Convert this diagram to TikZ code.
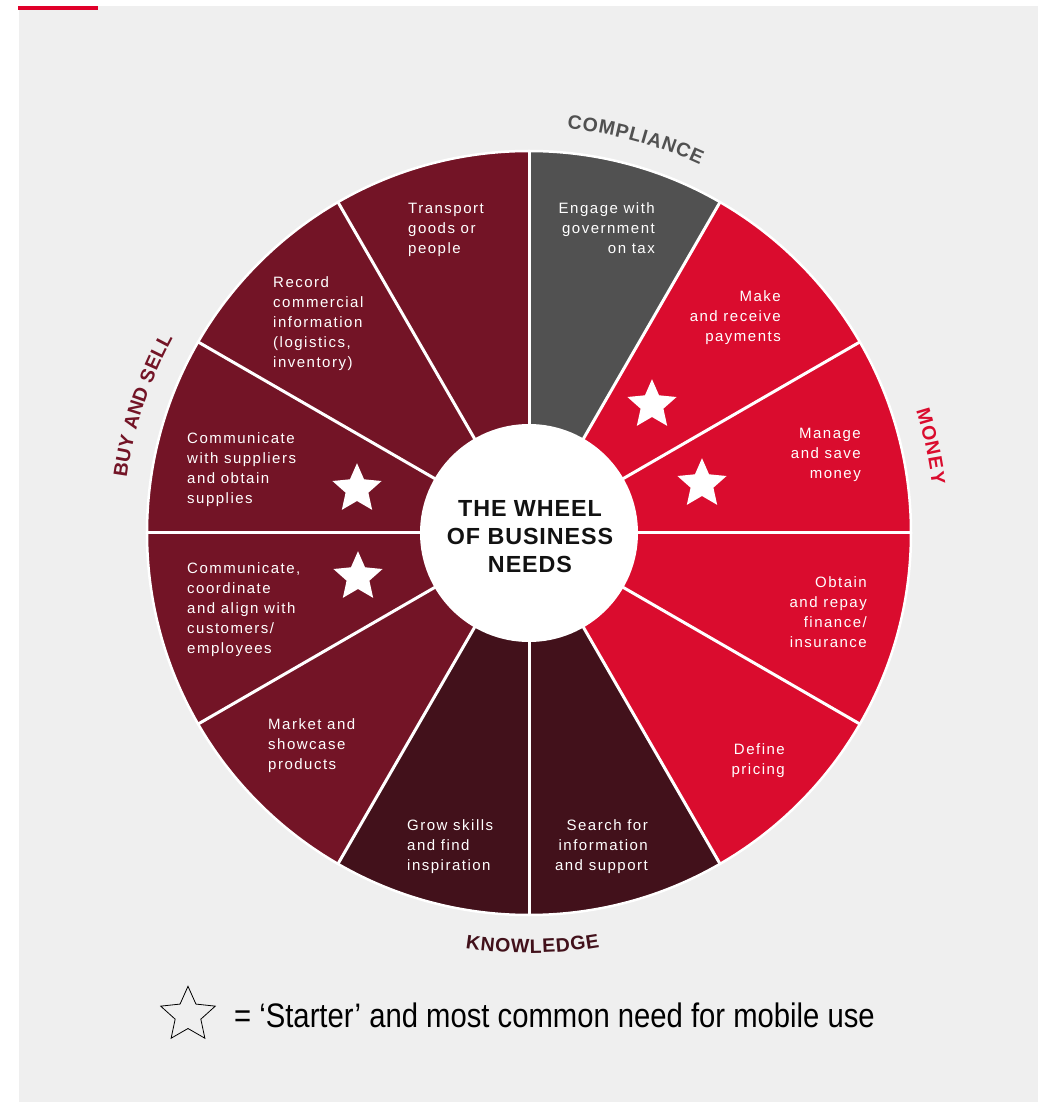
\documentclass[tikz,border=0pt]{standalone}
\usepackage{fontspec}
\setmainfont{Liberation Sans}
\newfontfamily\segfont[LetterSpace=10]{Liberation Sans}
\newfontfamily\titlefont[LetterSpace=4]{Liberation Sans}
\usetikzlibrary{decorations.text}
\definecolor{maroonw}{HTML}{731426}
\definecolor{darkw}{HTML}{42111B}
\definecolor{redw}{HTML}{DA0C2E}
\definecolor{grayw}{HTML}{515151}
\definecolor{panelw}{HTML}{EFEFEF}
\definecolor{barw}{HTML}{E0002A}
\newcommand\starshape[3]{(90:#2) -- (126:#3) -- (162:#2) -- (198:#3) -- (234:#2) -- (270:#3) -- (306:#2) -- (342:#3) -- (18:#2) -- (54:#3) -- cycle}
\tikzset{
  segtext/.style={font=\segfont\fontsize{15pt}{20pt}\selectfont, text=white, inner sep=0pt},
  segL/.style={segtext, anchor=north west, align=left},
  segR/.style={segtext, anchor=north east, align=right},
  wstar/.style={fill=white},
  sep/.style={white, line width=3pt},
  curvelabel/.style={decorate, decoration={text along path, text align=fit to path}}
}
\begin{document}
\begin{tikzpicture}[x=1pt, y=1pt]
\useasboundingbox (-529,-569) rectangle (522,533);
\fill[white] (-529,-569) rectangle (522,533);
\fill[panelw] (-510,-569) rectangle (509,527);
\fill[barw] (-511,522.5) rectangle (-431,527);

% sectors
\def\R{382pt}
\fill[grayw]   (0,0) -- (90:\R)  arc[start angle=90,  end angle=60,  radius=\R] -- cycle;
\fill[redw]    (0,0) -- (60:\R)  arc[start angle=60,  end angle=-60, radius=\R] -- cycle;
\fill[darkw]   (0,0) -- (-60:\R) arc[start angle=-60, end angle=-120,radius=\R] -- cycle;
\fill[maroonw] (0,0) -- (-120:\R) arc[start angle=-120,end angle=-270,radius=\R] -- cycle;
\foreach \a in {0,30,...,330} \draw[sep] (\a:100pt) -- (\a:\R);
\draw[white, line width=2.5pt] (0,0) circle[radius=\R];
\node[circle, fill=white, minimum size=218pt, inner sep=0pt] (hub) at (0,0) {};
\node[font=\titlefont\fontsize{23.3pt}{28pt}\selectfont\bfseries, text=black!93, align=center, anchor=north, inner sep=0pt] (title) at (1,33) {THE WHEEL\\OF BUSINESS\\NEEDS};

% segment texts
\node[segL] (transport) at (-121,330) {Transport\\goods or\\people};
\node[segR] (engage)    at (126,331)  {Engage with\\government\\on tax};
\node[segR] (make)      at (252,243)  {Make\\and receive\\payments};
\node[segR] (manage)    at (332,105)  {Manage\\and save\\money};
\node[segR] (obtain)    at (338,-43)  {Obtain\\and repay\\finance/\\insurance};
\node[segR] (define)    at (256,-210) {Define\\pricing};
\node[segR] (search)    at (119,-286) {Search for\\information\\and support};
\node[segL] (grow)      at (-122,-286) {Grow skills\\and find\\inspiration};
\node[segL] (market)    at (-261,-185) {Market and\\showcase\\products};
\node[segL] (commcust)  at (-342,-29) {Communicate,\\coordinate\\and align with\\customers/\\employees};
\node[segL] (commsupp)  at (-342,101) {Communicate\\with suppliers\\and obtain\\supplies};
\node[segL] (record)    at (-256,257) {Record\\commercial\\information\\(logistics,\\inventory)};

% stars
\fill[wstar, shift={(123,128)}]  \starshape{}{25.8pt}{12pt};
\fill[wstar, shift={(173,49)}]   \starshape{}{25.8pt}{12pt};
\fill[wstar, shift={(-172,44)}]  \starshape{}{25.8pt}{12pt};
\fill[wstar, shift={(-171,-44)}] \starshape{}{25.8pt}{12pt};

% curved group labels
\path[curvelabel, decoration={text color=grayw, text={|\fontsize{19.5pt}{20pt}\selectfont\bfseries|COMPLIANCE}}]
  (84.6:406pt) arc[start angle=84.6, end angle=65.1, radius=406pt];
\path[curvelabel, decoration={text color=redw, text={|\fontsize{19.5pt}{20pt}\selectfont\bfseries|MONEY}}]
  (17.6:406pt) arc[start angle=17.6, end angle=6.8, radius=406pt];
\path[curvelabel, decoration={text color=maroonw, text={|\fontsize{19.5pt}{20pt}\selectfont\bfseries|BUY AND SELL}}]
  (172.2:406pt) arc[start angle=172.2, end angle=151.3, radius=406pt];
\path[curvelabel, decoration={text color=darkw, text={|\fontsize{19.5pt}{20pt}\selectfont\bfseries|KNOWLEDGE}}]
  (-98.7:420pt) arc[start angle=-98.7, end angle=-80.3, radius=420pt];

% legend
\draw[black, line width=0.8pt, line join=miter, shift={(-341,-482)}] \starshape{}{28.7pt}{13.5pt};
\node[anchor=base west, inner sep=0pt, font=\fontsize{34pt}{36pt}\selectfont] (legend) at (-295,-494) {\scalebox{0.86}[1]{= ‘Starter’ and most common need for mobile use}};
\end{tikzpicture}
\end{document}
